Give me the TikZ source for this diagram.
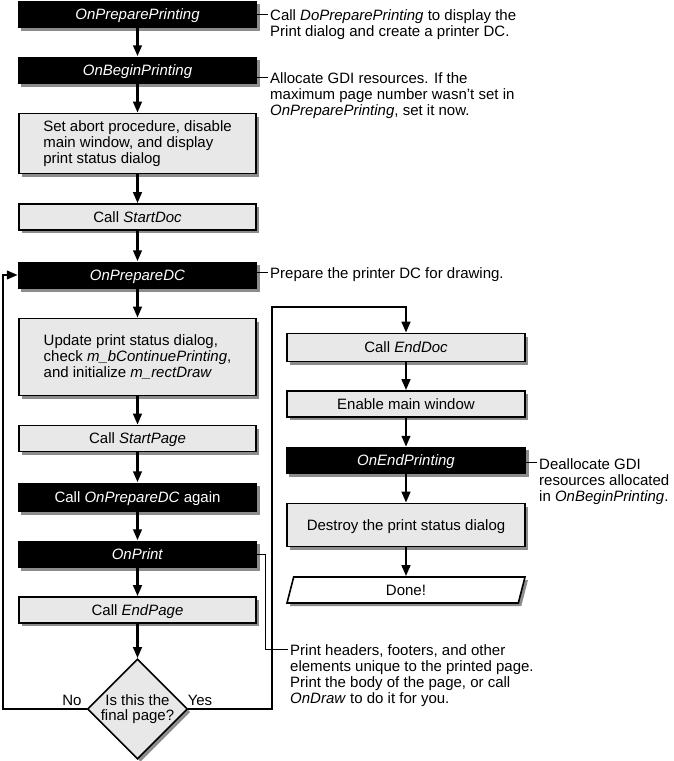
\documentclass[tikz,border=0pt]{standalone}
\usepackage{fontspec}
\setmainfont{Liberation Sans}
\usetikzlibrary{arrows.meta,shapes.geometric,shadows}
\tikzset{
  base/.style={inner sep=0pt, font=\fontsize{15}{16}\selectfont,
    drop shadow={shadow xshift=3pt, shadow yshift=-3pt, fill=black!45, opacity=1}},
  singleline/.style={text height=10.7pt, text depth=0pt},
  blackbox/.style={base, singleline, fill=black, text=white, minimum width=239pt, minimum height=27pt},
  graybox/.style={base, draw, line width=1.6pt, fill=black!9, minimum width=237.5pt, minimum height=26pt, align=left},
  decision/.style={base, diamond, shape aspect=1, draw, line width=1.6pt, fill=black!9, minimum width=100pt, minimum height=100pt},
  donebox/.style={base, singleline, trapezium, trapezium left angle=58, trapezium right angle=122, trapezium stretches body,
    draw, line width=1.6pt, fill=white, minimum width=238pt, minimum height=26pt},
  note/.style={anchor=north west, align=left, inner sep=0pt, font=\fontsize{15}{16}\selectfont},
  flow/.style={line width=2.5pt, -{Triangle[width=8.5pt,length=11pt]}},
  noteline/.style={line width=0.9pt}
}
\begin{document}
\begin{tikzpicture}[x=1pt, y=-1pt]
\useasboundingbox (0, 0) rectangle (673, 761);
% left column
\node[blackbox] (1) at (137.5, 14) {\textit{OnPreparePrinting}};
\node[blackbox] (2) at (137.5, 70) {\textit{OnBeginPrinting}};
\node[graybox, minimum height=60pt] (3) at (137.5, 143.5) {Set abort procedure, disable\\main window, and display\\print status dialog};
\node[graybox, singleline] (4) at (137.5, 217) {Call \textit{StartDoc}};
\node[blackbox] (5) at (137.5, 275) {\textit{OnPrepareDC}};
\node[graybox, minimum height=77pt] (6) at (137.5, 357) {Update print status dialog,\\check \textit{m\_bContinuePrinting},\\and initialize \textit{m\_rectDraw}};
\node[graybox, singleline] (7) at (137.5, 438.5) {Call \textit{StartPage}};
\node[blackbox, minimum height=29pt] (8) at (137.5, 497) {Call \textit{OnPrepareDC} again};
\node[blackbox] (9) at (137.5, 554) {\textit{OnPrint}};
\node[graybox, singleline] (10) at (137.5, 610) {Call \textit{EndPage}};
\node[decision, label={[align=center, font=\fontsize{15}{15.5}\selectfont]center:Is this the\\final page?}] (11) at (137.5, 709) {};
% right column
\node[graybox, singleline, minimum height=28pt] (12) at (406, 347.5) {Call \textit{EndDoc}};
\node[graybox, singleline] (13) at (406, 404) {Enable main window};
\node[blackbox, minimum width=240pt] (14) at (406, 460.5) {\textit{OnEndPrinting}};
\node[graybox, singleline, minimum height=43pt] (15) at (406, 525) {Destroy the print status dialog};
\node[donebox] (16) at (406, 590) {Done!};
% arrows
\foreach \a/\b in {1/2, 2/3, 3/4, 4/5, 5/6, 6/7, 7/8, 8/9, 9/10, 10/11, 12/13, 13/14, 14/15, 15/16}
  \draw[flow] (\a) -- (\b);
\coordinate (noturn) at (3, 709);
\draw[flow] (11.west) -- (noturn) |- (5.west);
\coordinate (yesturn) at (272, 307);
\draw[flow] (11.east) -| (yesturn) -| (12.north);
\node[font=\fontsize{15}{16}\selectfont] (no) at (72, 700) {No};
\node[font=\fontsize{15}{16}\selectfont] (yes) at (200, 700) {Yes};
% notes
\node[note] (n1) at (270, 9.5) {Call \textit{DoPreparePrinting} to display the\\Print dialog and create a printer DC.};
\node[note] (n2) at (270, 72.5) {Allocate GDI resources. If the\\maximum page number wasn't set in\\\textit{OnPreparePrinting}, set it now.};
\node[note] (n3) at (270, 267) {Prepare the printer DC for drawing.};
\node[note] (n4) at (539, 458.5) {Deallocate GDI\\resources allocated\\in \textit{OnBeginPrinting}.};
\node[note] (n5) at (290, 644) {Print headers, footers, and other\\elements unique to the printed page.\\Print the body of the page, or call\\\textit{OnDraw} to do it for you.};
\coordinate (c1) at (268, 14);
\coordinate (c2) at (268, 77);
\coordinate (c3) at (268, 272);
\coordinate (c4) at (537, 462);
\coordinate (c5) at (288, 649);
\draw[noteline] (1.east |- c1) -- (c1);
\draw[noteline] (2.east |- c2) -- (c2);
\draw[noteline] (5.east |- c3) -- (c3);
\draw[noteline] (14.east |- c4) -- (c4);
\draw[noteline] (9.east) -- ++(8, 0) |- (c5);
\end{tikzpicture}
\end{document}
